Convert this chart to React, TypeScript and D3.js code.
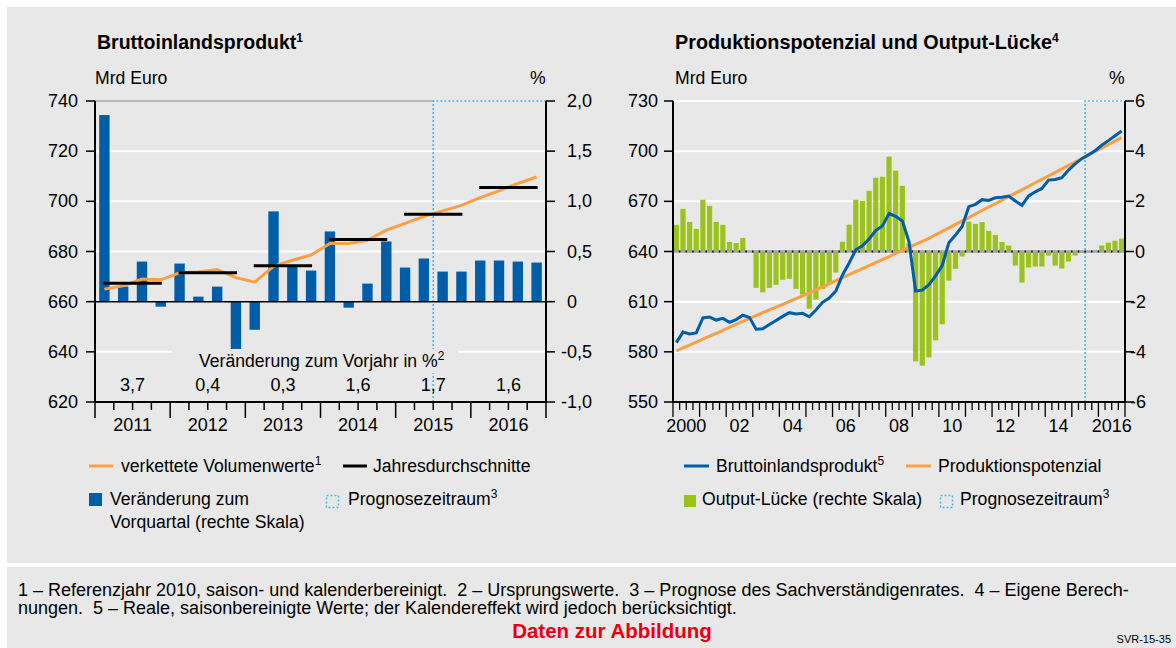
import React from 'react';
import * as d3 from 'd3';

// ---- left chart: Bruttoinlandsprodukt, 2011Q1 .. 2016Q4
const gdpYears = ['2011', '2012', '2013', '2014', '2015', '2016'];
const gdpChange = [1.86, 0.15, 0.4, -0.05, 0.38, 0.05, 0.15, -0.5, -0.28, 0.9, 0.35, 0.31,
  0.7, -0.06, 0.18, 0.6, 0.34, 0.43, 0.3, 0.3, 0.41, 0.41, 0.4, 0.39];
const gdpVolume = [665.0, 666.3, 669.0, 668.7, 671.5, 671.8, 672.8, 669.6, 667.8, 674.1, 676.5, 678.6,
  683.2, 683.2, 684.5, 688.5, 691.2, 694.0, 696.2, 698.4, 701.5, 704.2, 707.1, 709.7];
const gdpAnnual = [667.3, 671.5, 674.3, 684.8, 694.9, 705.5];
const gdpAnnualChange = ['3,7', '0,4', '0,3', '1,6', '1,7', '1,6'];
const leftTicksL = [620, 640, 660, 680, 700, 720, 740];
const leftTicksR = [-1, -0.5, 0, 0.5, 1, 1.5, 2];

// ---- right chart: Produktionspotenzial und Output-Lücke, 2000Q1 .. 2016Q4
const potYearLabels = ['2000', '02', '04', '06', '08', '10', '12', '14', '2016'];
const outputGap = [1.06, 1.7, 1.18, 0.9, 2.06, 1.82, 1.18, 1.06, 0.38, 0.34, 0.54, 0.02,
  -1.45, -1.63, -1.45, -1.33, -1.13, -1.09, -1.49, -1.72, -2.28, -1.92, -1.5, -1.3,
  -0.84, 0.39, 1.07, 2.06, 2.02, 2.42, 2.94, 2.98, 3.78, 3.22, 2.62, 0.32,
  -4.38, -4.55, -4.22, -3.54, -2.9, -1.16, -0.69, -0.2, 1.19, 1.1, 1.17, 0.82,
  0.66, 0.38, 0.24, -0.56, -1.24, -0.64, -0.6, -0.6, -0.16, -0.56, -0.68, -0.4,
  -0.16, -0.05, -0.03, 0.03, 0.24, 0.35, 0.43, 0.51];
const realGdp = [585.5, 591.8, 590.7, 591.3, 600.3, 600.8, 599.0, 600.0, 597.6, 599.3, 601.9, 600.6,
  593.5, 593.8, 596.3, 598.8, 601.2, 603.4, 602.6, 603.0, 601.0, 605.0, 609.6, 612.2,
  616.4, 626.0, 633.1, 641.0, 643.4, 647.5, 652.5, 655.2, 662.7, 661.0, 658.3, 646.0,
  616.4, 616.9, 620.1, 625.4, 631.6, 645.3, 649.8, 655.0, 666.8, 668.2, 671.0, 670.5,
  672.1, 672.5, 673.2, 670.2, 667.6, 673.2, 675.7, 677.7, 682.7, 683.1, 684.1, 688.7,
  692.4, 695.5, 697.8, 700.3, 703.5, 706.3, 709.2, 712.0];
const potential = [580.5, 582.3, 584.0, 585.8, 587.6, 589.4, 591.1, 592.9, 594.7, 596.4, 598.2, 600.0,
  601.7, 603.4, 605.1, 606.8, 608.4, 610.1, 611.8, 613.5, 615.3, 617.1, 618.9, 620.7,
  622.6, 624.4, 626.2, 628.0, 629.8, 631.6, 633.4, 635.2, 637.0, 638.9, 640.7, 642.5,
  644.3, 646.1, 647.9, 650.0, 652.0, 654.1, 656.2, 658.3, 660.3, 662.4, 664.5, 666.6,
  668.6, 670.7, 672.8, 674.9, 676.9, 679.0, 681.1, 683.2, 685.2, 687.3, 689.4, 691.5,
  693.5, 695.6, 697.7, 699.8, 701.8, 703.9, 706.0, 708.1];
const rightTicksL = [550, 580, 610, 640, 670, 700, 730];
const rightTicksR = [-6, -4, -2, 0, 2, 4, 6];

const footnote1 = '1 – Referenzjahr 2010, saison- und kalenderbereinigt.\u00a0 2 – Ursprungswerte.\u00a0 3 – Prognose des Sachverständigenrates.\u00a0 4 – Eigene Berech-';
const footnote2 = 'nungen.\u00a0 5 – Reale, saisonbereinigte Werte; der Kalendereffekt wird jedoch berücksichtigt.';

const BG = '#e8e8e8';
const BLUE = '#005ea8';
const ORANGE = '#f8a043';
const GREEN = '#9bc31b';
const DOTS = '#45b8ea';
const FONT = '"Liberation Sans", Arial, sans-serif';
const FS = 17.6; // legend / label size
const TS = 18; // tick label size

const fmtPct = (v: number) => (v === 0 ? '0' : d3.format('.1f')(v).replace('.', ',').replace('−', '-'));

function Sup({ t }: { t: string }) {
  return <tspan dy={-7} fontSize={12}>{t}</tspan>;
}

function LeftChart() {
  const top = 101, bottom = 402, x0 = 95, x1 = 546;
  const x = d3.scaleLinear().domain([0, 24]).range([x0, x1]);
  const y = d3.scaleLinear().domain([620, 740]).range([bottom, top]);
  const yr = d3.scaleLinear().domain([-1, 2]).range([bottom, top]);
  const line = d3.line<number>().x((_, i) => x(i + 0.5)).y(d => y(d));
  const fx = x(18);
  return (
    <g fontFamily={FONT}>
      <text x={97} y={49} fontSize={19.5} fontWeight="bold">Bruttoinlandsprodukt<Sup t="1" /></text>
      <text x={95} y={84} fontSize={FS}>Mrd Euro</text>
      <text x={530} y={84} fontSize={FS}>%</text>
      {[640, 680, 700, 720].map(v => (
        <line key={v} x1={x0} x2={x1} y1={y(v)} y2={y(v)} stroke="#fff" strokeWidth={2} />
      ))}
      <line x1={x0} x2={fx} y1={y(740)} y2={y(740)} stroke="#a9a9a9" strokeWidth={1.5} />
      <path d={`M${fx},${bottom}V${top}H${x1}`} fill="none" stroke={DOTS} strokeWidth={1.6} strokeDasharray="2 2" />
      {gdpChange.map((v, i) => (
        <rect key={i} x={x(i + 0.5) - 5.2} width={10.4} y={Math.min(yr(v), yr(0))}
          height={Math.abs(yr(v) - yr(0))} fill={BLUE} />
      ))}
      <line x1={x0} x2={x1} y1={y(660)} y2={y(660)} stroke="#000" strokeWidth={1.5} />
      <path d={line(gdpVolume) || ''} fill="none" stroke={ORANGE} strokeWidth={3} />
      {gdpAnnual.map((v, k) => (
        <line key={k} x1={x(4 * k + 0.5) - 1} x2={x(4 * k + 3.5) + 1} y1={y(v)} y2={y(v)}
          stroke="#000" strokeWidth={3} />
      ))}
      <rect x={172} y={349} width={286} height={24} fill={BG} />
      <text x={199} y={367} fontSize={FS}>Veränderung zum Vorjahr in %<Sup t="2" /></text>
      {gdpAnnualChange.map((t, k) => (
        <text key={k} x={x(4 * k + 2)} y={391} fontSize={TS} textAnchor="middle">{t}</text>
      ))}
      {/* axes */}
      <line x1={x0} x2={x0} y1={top} y2={bottom} stroke="#000" strokeWidth={2} />
      <line x1={x1} x2={x1} y1={top} y2={bottom} stroke="#000" strokeWidth={2} />
      <line x1={x0 - 1} x2={x1 + 1} y1={bottom} y2={bottom} stroke="#000" strokeWidth={2} />
      {leftTicksL.map(v => (
        <g key={v}>
          <line x1={x0 - 9} x2={x0} y1={y(v)} y2={y(v)} stroke="#000" strokeWidth={1.5} />
          <text x={78} y={y(v) + 6} fontSize={TS} textAnchor="end">{v}</text>
        </g>
      ))}
      {leftTicksR.map(v => (
        <g key={v}>
          <line x1={x1} x2={x1 + 9} y1={yr(v)} y2={yr(v)} stroke="#000" strokeWidth={1.5} />
          <text x={v < 0 ? 561 : 567} y={yr(v) + 6} fontSize={TS}>{fmtPct(v)}</text>
        </g>
      ))}
      {d3.range(25).map(i => (
        <line key={i} x1={x(i)} x2={x(i)} y1={bottom} y2={bottom + (i % 4 === 0 ? 16 : 8)}
          stroke="#000" strokeWidth={1.5} />
      ))}
      {gdpYears.map((t, k) => (
        <text key={t} x={x(4 * k + 2)} y={431} fontSize={TS} textAnchor="middle">{t}</text>
      ))}
      {/* legend */}
      <line x1={89} x2={113} y1={466} y2={466} stroke={ORANGE} strokeWidth={3} />
      <text x={121} y={472} fontSize={FS}>verkettete Volumenwerte<Sup t="1" /></text>
      <line x1={343} x2={367} y1={466} y2={466} stroke="#000" strokeWidth={3} />
      <text x={373} y={472} fontSize={FS}>Jahresdurchschnitte</text>
      <rect x={89} y={493} width={13} height={13} fill={BLUE} />
      <text x={110} y={505} fontSize={FS}>Veränderung zum</text>
      <text x={110} y={528} fontSize={FS}>Vorquartal (rechte Skala)</text>
      <rect x={326.5} y={495.5} width={12} height={12} fill="none" stroke={DOTS} strokeWidth={1.5} strokeDasharray="2 2" />
      <text x={348} y={505} fontSize={FS}>Prognosezeitraum<Sup t="3" /></text>
    </g>
  );
}

function RightChart() {
  const top = 101, bottom = 402, x0 = 673, x1 = 1125;
  const x = d3.scaleLinear().domain([0, 68]).range([x0, x1]);
  const y = d3.scaleLinear().domain([550, 730]).range([bottom, top]);
  const yr = d3.scaleLinear().domain([-6, 6]).range([bottom, top]);
  const line = d3.line<number>().x((_, i) => x(i + 0.5)).y(d => y(d));
  const fx = x(62);
  const qw = x(1) - x(0);
  return (
    <g fontFamily={FONT}>
      <text x={675} y={49} fontSize={19.8} fontWeight="bold">Produktionspotenzial und Output-Lücke<Sup t="4" /></text>
      <text x={675} y={84} fontSize={FS}>Mrd Euro</text>
      <text x={1109} y={84} fontSize={FS}>%</text>
      {[580, 610, 670, 700, 730].map(v => (
        <line key={v} x1={x0} x2={x1} y1={y(v)} y2={y(v)} stroke="#fff" strokeWidth={2} />
      ))}
      <path d={`M${fx},${bottom}V${top}H${x1}`} fill="none" stroke={DOTS} strokeWidth={1.6} strokeDasharray="2 2" />
      {outputGap.map((v, i) => (
        <rect key={i} x={x(i + 0.5) - 2.6} width={5.2} y={Math.min(yr(v), yr(0))}
          height={Math.abs(yr(v) - yr(0))} fill={GREEN} />
      ))}
      <line x1={x0} x2={x1} y1={yr(0)} y2={yr(0)} stroke="#a3a3a3" strokeWidth={2.5} />
      <line x1={x0} x2={x1} y1={yr(0)} y2={yr(0)} stroke="#111" strokeWidth={2}
        strokeDasharray={`1.5 ${qw - 1.5}`} strokeDashoffset={0.75} />
      <path d={line(potential) || ''} fill="none" stroke={ORANGE} strokeWidth={3} />
      <path d={line(realGdp) || ''} fill="none" stroke={BLUE} strokeWidth={3} />
      {/* axes */}
      <line x1={x0} x2={x0} y1={top} y2={bottom} stroke="#000" strokeWidth={2} />
      <line x1={x1} x2={x1} y1={top} y2={bottom} stroke="#000" strokeWidth={2} />
      <line x1={x0 - 1} x2={x1 + 1} y1={bottom} y2={bottom} stroke="#000" strokeWidth={2} />
      {rightTicksL.map(v => (
        <g key={v}>
          <line x1={x0 - 9} x2={x0} y1={y(v)} y2={y(v)} stroke="#000" strokeWidth={1.5} />
          <text x={658} y={y(v) + 6} fontSize={TS} textAnchor="end">{v}</text>
        </g>
      ))}
      {rightTicksR.map(v => (
        <g key={v}>
          <line x1={x1} x2={x1 + 9} y1={yr(v)} y2={yr(v)} stroke="#000" strokeWidth={1.5} />
          <text x={v < 0 ? 1130 : 1135} y={yr(v) + 6} fontSize={TS}>{v}</text>
        </g>
      ))}
      {d3.range(69).map(i => (
        <line key={i} x1={x(i)} x2={x(i)} y1={bottom} y2={bottom + (i % 4 === 0 ? 15 : 8)}
          stroke="#000" strokeWidth={1.3} />
      ))}
      {potYearLabels.map((t, k) => (
        <text key={t} x={x(8 * k + 2)} y={432} fontSize={TS} textAnchor="middle">{t}</text>
      ))}
      {/* legend */}
      <line x1={684} x2={709} y1={466} y2={466} stroke={BLUE} strokeWidth={3} />
      <text x={716} y={472} fontSize={FS}>Bruttoinlandsprodukt<Sup t="5" /></text>
      <line x1={906} x2={931} y1={466} y2={466} stroke={ORANGE} strokeWidth={3} />
      <text x={938} y={472} fontSize={FS}>Produktionspotenzial</text>
      <rect x={684} y={495} width={12} height={12} fill={GREEN} />
      <text x={702} y={505} fontSize={FS}>Output-Lücke (rechte Skala)</text>
      <rect x={940.5} y={495.5} width={12} height={12} fill="none" stroke={DOTS} strokeWidth={1.5} strokeDasharray="2 2" />
      <text x={960} y={505} fontSize={FS}>Prognosezeitraum<Sup t="3" /></text>
    </g>
  );
}

export default function App() {
  return (
    <svg width={1176} height={648} style={{ position: 'absolute', left: 0, top: 0 }}>
      <rect width={1176} height={648} fill="#fff" />
      <rect x={7} y={7} width={1169} height={556} fill={BG} />
      <rect x={7} y={567} width={1169} height={81} fill={BG} />
      <LeftChart />
      <RightChart />
      <g fontFamily={FONT}>
        <text x={18} y={596} fontSize={18}>{footnote1}</text>
        <text x={18} y={614} fontSize={18}>{footnote2}</text>
        <text x={612} y={638} fontSize={20.5} fontWeight="bold" fill="#e60012" textAnchor="middle">Daten zur Abbildung</text>
        <text x={1171} y={643} fontSize={11} textAnchor="end">SVR-15-35</text>
      </g>
    </svg>
  );
}
